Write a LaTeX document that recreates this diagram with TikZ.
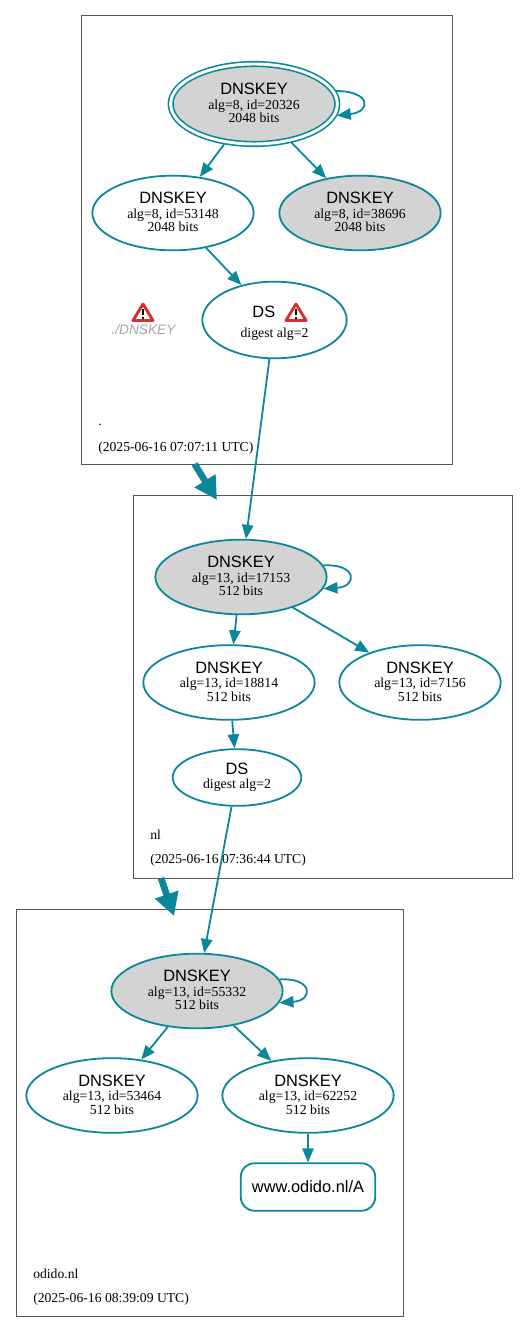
\documentclass[tikz,border=0pt]{standalone}
\usepackage{fontspec}
\setmainfont{Liberation Serif}
\newfontfamily\headfont{Liberation Sans}
\usetikzlibrary{shapes.geometric,arrows.meta}
\definecolor{dnsteal}{HTML}{0A879A}
\definecolor{boxgrey}{HTML}{555555}
\definecolor{keygrey}{HTML}{D3D3D3}
\definecolor{warnred}{HTML}{D2322D}
\newcommand{\headtext}[1]{{\headfont\fontsize{12.3}{13}\selectfont #1}}
\newcommand{\infotext}[1]{{\fontsize{10.35}{11}\selectfont #1}}
\newcommand{\keytext}[2]{\raisebox{1pt}{\headtext{DNSKEY}}\\[-2.25pt]\infotext{#1}\\[-1.75pt]\infotext{#2\rule[-1.5pt]{0pt}{0pt}}}
\tikzset{
  warnicon/.pic={
    \draw[warnred, line width=2.2pt, line join=round, fill=white] (-10,8.5)--(0,-8)--(10,8.5)--cycle;
    \draw[black, line width=1.7pt] (0,-3)--(0,3);
    \fill[black] (0,6) circle (1.4);
  }
}
\begin{document}
\begin{tikzpicture}[x=0.75pt, y=-0.75pt,
    zonebox/.style={draw=boxgrey, line width=0.75pt, inner sep=0pt},
    zonetext/.style={anchor=west, inner sep=0pt, font=\fontsize{10.25}{11}\selectfont},
    keynode/.style={ellipse, draw=dnsteal, line width=1.35pt, inner sep=0pt, align=center,
      minimum width=121pt, minimum height=56pt},
    widekey/.style={keynode, minimum width=128.5pt},
    signkey/.style={fill=keygrey},
    dsnode/.style={keynode, minimum width=#1},
    link/.style={draw=dnsteal, line width=1.35pt, -{Triangle[length=10.5pt,width=8.5pt]}},
    zonelink/.style={draw=dnsteal, line width=5pt, -{Triangle[length=17pt,width=17.5pt]}}]
  \useasboundingbox (0,0) rectangle (528,1333);
  % the three zones
  \node[zonebox, minimum width=277.9pt, minimum height=336pt] (rootzone) at (266.75,240) {};
  \node[zonebox, minimum width=283.9pt, minimum height=287.25pt] (nlzone) at (322.75,686.5) {};
  \node[zonebox, minimum width=290.75pt, minimum height=305.25pt] (odidozone) at (210,1112.5) {};
  % root zone
  \node[widekey, signkey, draw, double=white, double distance=2.2pt, line width=1.2pt,
    minimum width=125pt, minimum height=60pt, outer sep=2pt] (k20326) at (254,104) {\keytext{alg=8, id=20326}{2048 bits}};
  \node[keynode] (k53148) at (173,213) {\keytext{alg=8, id=53148}{2048 bits}};
  \node[keynode, signkey] (k38696) at (360,213) {\keytext{alg=8, id=38696}{2048 bits}};
  \node[dsnode=108.25pt, minimum height=57.5pt] (dsroot) at (274.5,320) {\rule{0pt}{13.5pt}\headtext{DS\hspace*{16pt}}\\[3pt]\infotext{digest alg=2}};
  \pic at (296,312) {warnicon};
  \pic at (143,312) {warnicon};
  \node[inner sep=0pt, text=black!35, font=\headfont\itshape\fontsize{10.3}{11}\selectfont] (missing) at (143.5,329.5) {./DNSKEY};
  \node[zonetext] (rootname) at (98,425) {.};
  \node[zonetext] (rootdate) at (98,448) {(2025-06-16 07:07:11 UTC)};
  % nl zone
  \node[widekey, signkey] (k17153) at (241,577) {\keytext{alg=13, id=17153}{512 bits}};
  \node[widekey] (k18814) at (229,682.5) {\keytext{alg=13, id=18814}{512 bits}};
  \node[keynode] (k7156) at (420,682.5) {\keytext{alg=13, id=7156}{512 bits}};
  \node[dsnode=96.5pt, minimum height=42.5pt] (dsnl) at (237,777.5) {\headtext{DS}\\[-1.5pt]\infotext{digest alg=2}};
  \node[zonetext] (nlname) at (150,835) {nl};
  \node[zonetext] (nldate) at (150,860) {(2025-06-16 07:36:44 UTC)};
  % odido.nl zone
  \node[widekey, signkey] (k55332) at (197,991) {\keytext{alg=13, id=55332}{512 bits}};
  \node[widekey] (k53464) at (112,1095.5) {\keytext{alg=13, id=53464}{512 bits}};
  \node[widekey] (k62252) at (308,1095.5) {\keytext{alg=13, id=62252}{512 bits}};
  \node[draw=dnsteal, line width=1.35pt, rounded corners=10pt, minimum width=100.75pt, minimum height=35.5pt, inner sep=0pt] (rrset) at (308,1187) {\headtext{www.odido.nl/A}};
  \node[zonetext] (odidoname) at (33,1274) {odido.nl};
  \node[zonetext] (odidodate) at (33,1299) {(2025-06-16 08:39:09 UTC)};
  % links
  \draw[link] (k20326.9) .. controls +(35,0) and +(35,-4) .. (k20326.-8);
  \draw[link] (k20326)--(k53148);
  \draw[link] (k20326)--(k38696);
  \draw[link] (k53148)--(dsroot);
  \draw[link] (dsroot)--(k17153);
  \draw[link] (k17153.8) .. controls +(34,-2) and +(34,-2) .. (k17153.-8);
  \draw[link] (k17153)--(k18814);
  \draw[link] (k17153)--(k7156);
  \draw[link] (k18814)--(dsnl);
  \draw[link] (dsnl)--(k55332);
  \draw[link] (k55332.8) .. controls +(34,-2) and +(34,-2) .. (k55332.-8);
  \draw[link] (k55332)--(k53464);
  \draw[link] (k55332)--(k62252);
  \draw[link] (k62252)--(rrset);
  % between zones
  \coordinate (rootout) at (194.5,464);
  \coordinate (nlin) at (217,500);
  \coordinate (nlout) at (161,878);
  \coordinate (odidoin) at (174,916);
  \draw[zonelink] (rootout)--(nlin);
  \draw[zonelink] (nlout)--(odidoin);
\end{tikzpicture}
\end{document}
